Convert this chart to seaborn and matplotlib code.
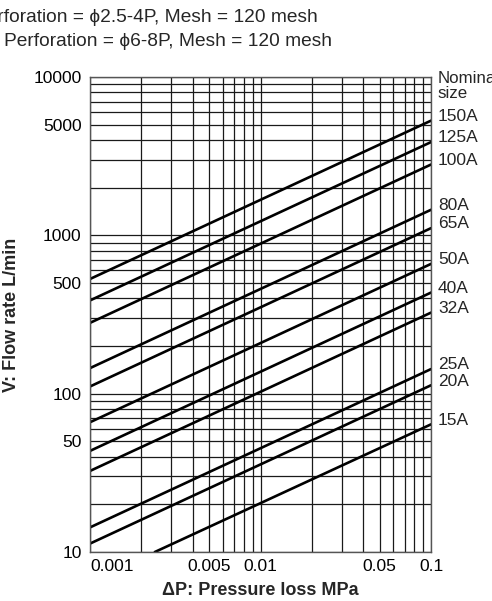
import matplotlib
matplotlib.use("Agg")
import matplotlib.pyplot as plt
import matplotlib.ticker as mticker
import numpy as np
import pandas as pd
import seaborn as sns

sizes = ["150A", "125A", "100A", "80A", "65A", "50A", "40A", "32A", "25A", "20A", "15A"]
dp_start = [0.001, 0.001, 0.001, 0.001, 0.001, 0.001, 0.001, 0.001, 0.001, 0.001, 0.0024]
flow_start = [530, 388, 280, 145, 111, 66, 43.5, 32.5, 14.3, 11.3, 10]
dp_end = [0.1] * 11
flow_end = [5300, 3880, 2800, 1450, 1110, 660, 435, 325, 143, 113, 64]

x_ticks = [0.001, 0.005, 0.01, 0.05, 0.1]
x_ticklabels = ["0.001", "0.005", "0.01", "0.05", "0.1"]
y_ticks = [10, 50, 100, 500, 1000, 5000, 10000]
y_ticklabels = ["10", "50", "100", "500", "1000", "5000", "10000"]

title_lines = ["Perforation = \u03d52.5-4P, Mesh = 120 mesh",
               "Perforation = \u03d56-8P, Mesh = 120 mesh"]

rows = []
for s, x0, y0, x1, y1 in zip(sizes, dp_start, flow_start, dp_end, flow_end):
    rows.append({"size": s, "dp": x0, "flow": y0})
    rows.append({"size": s, "dp": x1, "flow": y1})
df = pd.DataFrame(rows)

sns.set_theme(style="white")
plt.rcParams["font.family"] = ["Liberation Sans", "DejaVu Sans"]

fig = plt.figure(figsize=(4.92, 6.01), dpi=100)
ax = fig.add_axes([90 / 492, 1 - 552 / 601, 341 / 492, 475 / 601])

sns.lineplot(data=df, x="dp", y="flow", hue="size", units="size", estimator=None,
             palette=["black"] * len(sizes), linewidth=1.9, legend=False, ax=ax)

ax.set_xscale("log")
ax.set_yscale("log")
ax.set_xlim(0.001, 0.1)
ax.set_ylim(10, 10000)

ax.xaxis.set_major_locator(mticker.FixedLocator(x_ticks))
ax.xaxis.set_major_formatter(mticker.FixedFormatter(x_ticklabels))
ax.yaxis.set_major_locator(mticker.FixedLocator(y_ticks))
ax.yaxis.set_major_formatter(mticker.FixedFormatter(y_ticklabels))
ax.xaxis.set_minor_locator(mticker.LogLocator(base=10, subs=np.arange(1, 10)))
ax.yaxis.set_minor_locator(mticker.LogLocator(base=10, subs=np.arange(1, 10)))
ax.xaxis.set_minor_formatter(mticker.NullFormatter())
ax.yaxis.set_minor_formatter(mticker.NullFormatter())
ax.tick_params(which="both", length=0, labelsize=12.5, colors="black")
ax.tick_params(axis="x", pad=5)
ax.tick_params(axis="y", pad=6)
ax.grid(which="both", color="#1a1a1a", linewidth=0.9)
for sp in ax.spines.values():
    sp.set_color("#555555")
    sp.set_linewidth(1.0)

# first x label sits right of the axis corner, clear of the "10"
fig.canvas.draw()
for lbl in ax.get_xticklabels():
    if lbl.get_text() == "0.001":
        lbl.set_horizontalalignment("left")

ax.set_xlabel("\u0394P: Pressure loss MPa", fontsize=13, fontweight="bold", labelpad=6)
ax.set_ylabel("V: Flow rate L/min", fontsize=13, fontweight="bold", labelpad=10)

# size labels at the right-hand end of each line
for s, x1, y1 in zip(sizes, dp_end, flow_end):
    ax.annotate(s, (x1, y1), xytext=(5, 3), textcoords="offset points",
                ha="left", va="center", fontsize=12.5, annotation_clip=False)
ax.text(1.018, 1.012, "Nominal\nsize", transform=ax.transAxes, ha="left", va="top",
        fontsize=12.2, linespacing=1.0)

# header lines, cut at the left like the source
fig.text(318 / 492, 1 - 17 / 601, title_lines[0], ha="right", va="center", fontsize=13.8)
fig.text(332 / 492, 1 - 42 / 601, title_lines[1], ha="right", va="center", fontsize=13.8)

fig.savefig("out.png", dpi=100)
